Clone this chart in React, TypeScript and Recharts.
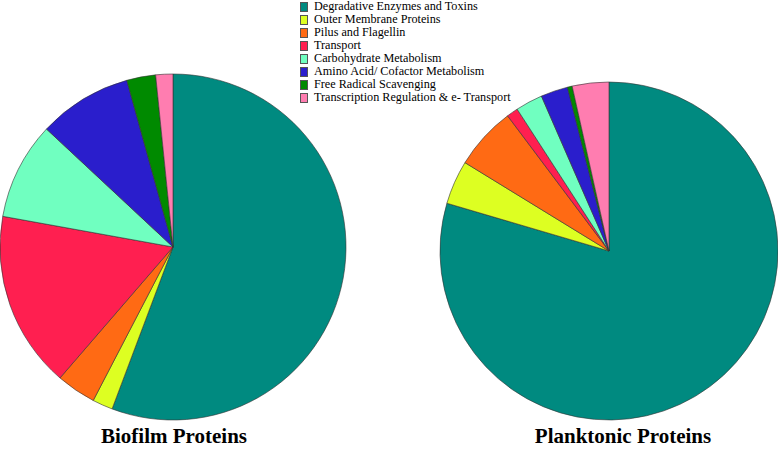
import React from "react";
import { PieChart, Pie, Cell } from "recharts";

const categories = [
  "Degradative Enzymes and Toxins",
  "Outer Membrane Proteins",
  "Pilus and Flagellin",
  "Transport",
  "Carbohydrate Metabolism",
  "Amino Acid/ Cofactor Metabolism",
  "Free Radical Scavenging",
  "Transcription Regulation & e- Transport",
];

const colors = [
  "#008A80",
  "#DDFF22",
  "#FF6A14",
  "#FF1F50",
  "#70FFC0",
  "#2A1ECC",
  "#008A00",
  "#FF7DB0",
];

const biofilmValues = [55.7, 1.9, 3.7, 16.5, 9.1, 8.75, 2.7, 1.6];
const planktonicValues = [79.6, 4.2, 6.0, 1.1, 2.6, 2.6, 0.45, 3.5];

const titles = ["Biofilm Proteins", "Planktonic Proteins"];

const biofilmData = categories.map((name, i) => ({ name, value: biofilmValues[i] }));
const planktonicData = categories.map((name, i) => ({ name, value: planktonicValues[i] }));

export default function App() {
  return (
    <div
      style={{
        position: "absolute",
        left: 0,
        top: 0,
        width: 778,
        height: 449,
        background: "#fff",
        overflow: "hidden",
      }}
    >
      <PieChart width={778} height={449} margin={{ top: 0, right: 0, bottom: 0, left: 0 }}>
        <Pie
          data={biofilmData}
          dataKey="value"
          nameKey="name"
          cx={173}
          cy={247}
          outerRadius={173}
          startAngle={90}
          endAngle={-270}
          stroke="#333"
          strokeWidth={0.6}
          isAnimationActive={false}
        >
          {biofilmData.map((d, i) => (
            <Cell key={d.name} fill={colors[i]} />
          ))}
        </Pie>
        <Pie
          data={planktonicData}
          dataKey="value"
          nameKey="name"
          cx={609}
          cy={251}
          outerRadius={169}
          startAngle={90}
          endAngle={-270}
          stroke="#333"
          strokeWidth={0.6}
          isAnimationActive={false}
        >
          {planktonicData.map((d, i) => (
            <Cell key={d.name} fill={colors[i]} />
          ))}
        </Pie>
      </PieChart>
      <div
        style={{
          position: "absolute",
          left: 300,
          top: 0,
          fontFamily: "'Liberation Serif', 'Times New Roman', serif",
          fontSize: 12.2,
          lineHeight: "13px",
          color: "#000",
        }}
      >
        {categories.map((c, i) => (
          <div key={c} style={{ display: "flex", alignItems: "center", height: 13 }}>
            <span
              style={{
                display: "inline-block",
                width: 6,
                height: 8,
                background: colors[i],
                border: "0.5px solid #555",
                marginRight: 6,
              }}
            />
            <span style={{ whiteSpace: "nowrap" }}>{c}</span>
          </div>
        ))}
      </div>
      {titles.map((t, i) => (
        <div
          key={t}
          style={{
            position: "absolute",
            left: i === 0 ? 74 : 523,
            width: 200,
            top: 424,
            textAlign: "center",
            fontFamily: "'Liberation Serif', 'Times New Roman', serif",
            fontWeight: "bold",
            fontSize: 21,
            lineHeight: "24px",
            color: "#000",
          }}
        >
          {t}
        </div>
      ))}
    </div>
  );
}
